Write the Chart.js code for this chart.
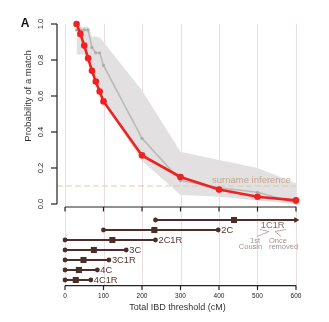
<!DOCTYPE html>
<html>
<head>
<meta charset="utf-8">
<script src="https://cdn.jsdelivr.net/npm/chart.js@4.4.1/dist/chart.umd.min.js"></script>
<style>
  html, body { margin: 0; padding: 0; background: #fff; }
  #wrap { width: 329px; height: 322px; }
</style>
</head>
<body>
<div id="wrap"><canvas id="chart" width="329" height="322"></canvas></div>
<script>
// top panel: probability of a match by IBD threshold
const thresholds = [30, 40, 50, 60, 70, 80, 90, 100, 200, 300, 400, 500, 600];
const probMatch = [1.0, 0.945, 0.88, 0.81, 0.74, 0.68, 0.625, 0.57, 0.27, 0.15, 0.08, 0.04, 0.02];
const probOther = [0.967, 0.967, 0.967, 0.967, 0.87, 0.84, 0.84, 0.77, 0.365, 0.13, 0.09, 0.065, 0.005];
const bandUpper = [0.985, 0.985, 0.985, 0.985, 0.93, 0.93, 0.925, 0.9, 0.63, 0.29, 0.245, 0.2, 0.115];
const bandLower = [0.83, 0.83, 0.83, 0.79, 0.72, 0.66, 0.61, 0.56, 0.24, 0.05, 0.04, 0.02, 0.0];
const surnameLevel = 0.1;

// bottom panel: IBD range per relationship (min, median, max)
const relations = ['1C1R', '2C', '2C1R', '3C', '3C1R', '4C', '4C1R'];
const ibdMin = [235, 100, 0, 0, 0, 0, 0];
const ibdMedian = [439, 232, 123, 75, 48, 36, 28];
const ibdMax = [600, 398, 235, 159, 114, 84, 67];

const xTicks = [0, 100, 200, 300, 400, 500, 600];
const yTicks = [0, 0.2, 0.4, 0.6, 0.8, 1.0];

const FONT = "'Liberation Sans', Arial, Helvetica, sans-serif";
const RED = '#ef2121';
const BROWN = '#4b2e2a';

const toPoints = (xs, ys) => xs.map((x, i) => ({ x: x, y: ys[i] }));

const datasets = [
    {
        data: toPoints(thresholds, probMatch),
        borderColor: RED, backgroundColor: RED,
        borderWidth: 2.6, pointRadius: 3.3, pointBorderWidth: 0,
        order: 0, clip: false
    },
    {
        data: toPoints(thresholds, probOther),
        borderColor: '#bababa', backgroundColor: '#acacac',
        borderWidth: 1.6, pointRadius: 1.6, pointBorderWidth: 0,
        order: 1, clip: false
    },
    {
        data: toPoints(thresholds, bandUpper),
        borderWidth: 0, pointRadius: 0,
        backgroundColor: '#e2e0e1', fill: '+1',
        order: 3
    },
    {
        data: toPoints(thresholds, bandLower),
        borderWidth: 0, pointRadius: 0, fill: false,
        order: 4
    },
    {
        data: [{ x: -20.8, y: surnameLevel }, { x: 600, y: surnameLevel }],
        borderColor: '#e0c6b2', borderWidth: 1, borderDash: [6, 3],
        pointRadius: 0, order: 2
    }
];

// relationship ranges
relations.forEach((rel, i) => {
    const first = i === 0;
    datasets.push({
        yAxisID: 'y2',
        data: [{ x: ibdMin[i], y: i + 1 }, { x: ibdMax[i], y: i + 1 }],
        borderColor: BROWN, backgroundColor: BROWN,
        borderWidth: 2,
        pointStyle: first ? ['circle', 'triangle'] : 'circle',
        pointRotation: first ? [0, 90] : 0,
        pointRadius: first ? [2.4, 3.4] : 2.4,
        pointBorderWidth: 0,
        order: 5, clip: false
    });
});
datasets.push({
    yAxisID: 'y2',
    data: ibdMedian.map((m, i) => ({ x: m, y: i + 1 })),
    showLine: false,
    pointStyle: 'rect', pointRadius: 4.3, pointBorderWidth: 0,
    backgroundColor: BROWN, borderColor: BROWN,
    order: 5, clip: false
});

const decor = {
    id: 'decor',
    beforeDatasetsDraw(chart) {
        const { ctx, chartArea, scales } = chart;
        ctx.save();
        ctx.strokeStyle = '#e9dfe0';
        ctx.lineWidth = 1;
        xTicks.forEach(t => {
            const px = Math.round(scales.x.getPixelForValue(t)) + 0.5;
            ctx.beginPath();
            ctx.moveTo(px, chartArea.top);
            ctx.lineTo(px, chartArea.bottom);
            ctx.stroke();
        });
        ctx.restore();
    },
    afterDraw(chart) {
        const { ctx, chartArea, scales } = chart;
        const x = scales.x, y = scales.y, y2 = scales.y2;
        ctx.save();
        ctx.strokeStyle = '#222';
        ctx.fillStyle = '#222';
        ctx.lineWidth = 1.2;

        // y axis of top panel
        const left = chartArea.left;
        ctx.beginPath();
        ctx.moveTo(left, y.getPixelForValue(1));
        ctx.lineTo(left, y.getPixelForValue(0));
        ctx.stroke();
        ctx.font = '7.5px ' + FONT;
        ctx.textAlign = 'center';
        ctx.textBaseline = 'middle';
        yTicks.forEach(t => {
            const py = y.getPixelForValue(t);
            ctx.beginPath();
            ctx.moveTo(left - 6, py);
            ctx.lineTo(left, py);
            ctx.stroke();
            ctx.save();
            ctx.translate(41, py);
            ctx.rotate(-Math.PI / 2);
            ctx.fillText(t.toFixed(1), 0, 0);
            ctx.restore();
        });

        // axes of bottom panel
        const x0 = x.getPixelForValue(0), x1 = x.getPixelForValue(600);
        [y2.getPixelForValue(-0.3), y2.getPixelForValue(7.56)].forEach(py => {
            ctx.beginPath();
            ctx.moveTo(x0, py);
            ctx.lineTo(x1, py);
            ctx.stroke();
            xTicks.forEach(t => {
                const px = x.getPixelForValue(t);
                ctx.beginPath();
                ctx.moveTo(px, py);
                ctx.lineTo(px, py + 4.5);
                ctx.stroke();
            });
        });
        ctx.font = '6.5px ' + FONT;
        xTicks.forEach(t => {
            ctx.fillText(String(t), x.getPixelForValue(t), 296);
        });

        // titles
        ctx.fillStyle = '#333';
        ctx.font = '9px ' + FONT;
        ctx.fillText('Total IBD threshold (cM)', 177.5, 308);
        ctx.font = '9.5px ' + FONT;
        ctx.save();
        ctx.translate(28, 96);
        ctx.rotate(-Math.PI / 2);
        ctx.fillText('Probability of a match', 0, 0);
        ctx.restore();
        ctx.fillStyle = '#111';
        ctx.font = "bold 12px 'Liberation Sans Narrow', " + FONT;
        ctx.fillText('A', 25, 23.5);

        // surname inference label
        ctx.fillStyle = '#c6a68c';
        ctx.font = '9.5px ' + FONT;
        ctx.fillText('surname inference', x.getPixelForValue(484), y.getPixelForValue(surnameLevel) - 6);

        // relationship labels
        ctx.fillStyle = '#553631';
        ctx.font = '9.3px ' + FONT;
        ctx.textAlign = 'left';
        relations.forEach((rel, i) => {
            if (i === 0) return;
            ctx.fillText(rel, x.getPixelForValue(ibdMax[i]) + 3, y2.getPixelForValue(i + 1) + 0.5);
        });

        // 1C1R annotation
        ctx.textAlign = 'center';
        ctx.fillStyle = '#7c6c6a';
        ctx.fillText(relations[0], 272.7, 225.5);
        ctx.strokeStyle = '#a89b99';
        ctx.lineWidth = 0.8;
        ctx.beginPath();
        ctx.moveTo(260, 229.5); ctx.lineTo(269, 231.5); ctx.lineTo(257, 236.5);
        ctx.moveTo(286, 229.5); ctx.lineTo(275, 231.5); ctx.lineTo(281, 236.5);
        ctx.stroke();
        ctx.fillStyle = '#a09290';
        ctx.font = '7.5px ' + FONT;
        ctx.fillText('1st', 255, 240.5);
        ctx.fillText('Cousin', 250.5, 246.5);
        ctx.fillText('Once', 278, 240.5);
        ctx.fillText('removed', 283.5, 246.5);
        ctx.restore();
    }
};

new Chart(document.getElementById('chart'), {
    type: 'line',
    data: { datasets: datasets },
    options: {
        responsive: false,
        animation: false,
        devicePixelRatio: 1,
        events: [],
        layout: { padding: { left: 57, right: 29, top: 24, bottom: 36 } },
        plugins: { legend: { display: false }, tooltip: { enabled: false } },
        scales: {
            x: { type: 'linear', display: false, min: -20.8, max: 610.4 },
            y: { type: 'linear', display: false, min: -0.4556, max: 1 },
            y2: { type: 'linear', display: false, min: -18.6, max: 7.6, reverse: true }
        }
    },
    plugins: [decor]
});
</script>
</body>
</html>
